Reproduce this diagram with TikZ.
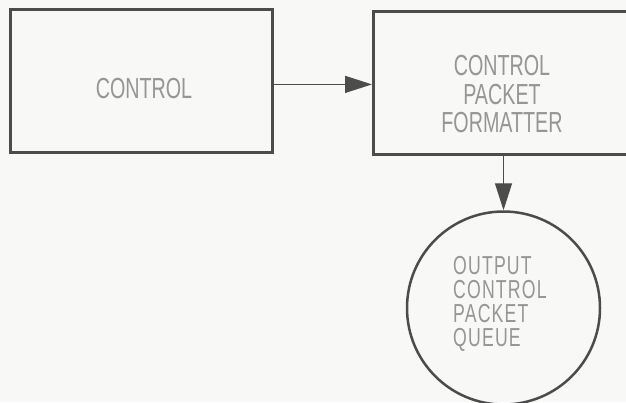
\documentclass[tikz,border=0pt]{standalone}
\usepackage{fontspec}
\setmainfont{Liberation Sans}[FakeStretch=0.68]
\usetikzlibrary{arrows.meta}
\definecolor{ink}{HTML}{4C4C4C}
\definecolor{txt}{HTML}{969696}
\definecolor{paper}{HTML}{F8F8F6}
\begin{document}
\begin{tikzpicture}[x=1pt,y=-1pt,
  box/.style={draw=ink,line width=2.8pt,rectangle,inner sep=0pt,anchor=north west},
  lbl/.style={text=txt,font=\fontsize{29}{28.5}\selectfont,inner sep=0pt},
  conn/.style={draw=ink,line width=1.3pt,-{Triangle[length=27pt,width=17pt]}}]
\fill[paper] (0,0) rectangle (626,402);
\useasboundingbox (0,0) rectangle (626,402);
\clip (0,0) rectangle (626,402);
\node[box,minimum width=262pt,minimum height=143pt] (ctl) at (9,8) {};
\node[box,minimum width=280pt,minimum height=143pt] (fmt) at (372,10) {};
\node[draw=ink,line width=2.5pt,circle,minimum size=193pt,inner sep=0pt] (q) at (503.5,308) {};
\node[lbl,anchor=base] (ctlt) at (144,98) {CONTROL};
\node[lbl,align=center,anchor=north] (fmtt) at (502,55.5) {CONTROL\\PACKET\\FORMATTER};
\node[lbl,align=left,anchor=north west,font=\fontsize{26}{24}\selectfont\addfontfeature{LetterSpace=4.5}] (qt) at (453,256.5) {OUTPUT\\CONTROL\\PACKET\\QUEUE};
\draw[conn] ([yshift=-3.5pt]ctl.east) -- ([yshift=-3.5pt]ctl.east -| fmt.west);
\draw[conn] (q.north |- fmt.south) -- (q.north);
\end{tikzpicture}
\end{document}
